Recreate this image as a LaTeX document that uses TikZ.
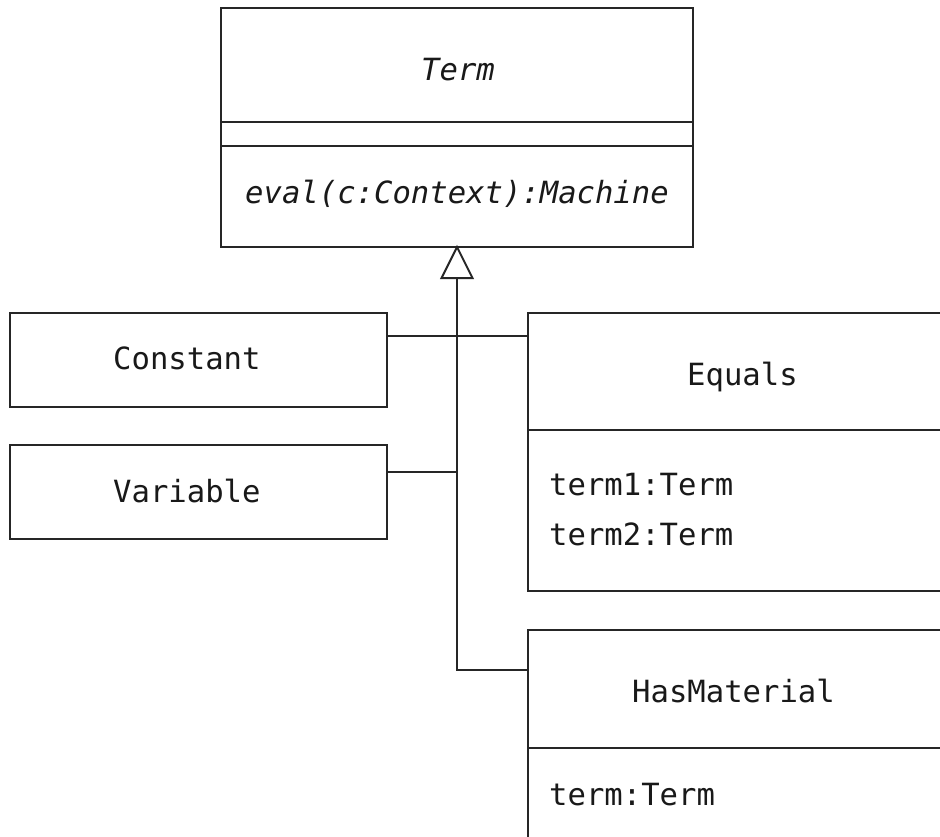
\documentclass[tikz,border=0pt]{standalone}
\usepackage{fontspec}
\setmonofont{DejaVu Sans Mono}
\usetikzlibrary{calc}
\begin{document}
\begin{tikzpicture}[x=1bp,y=-1bp,
  box/.style={draw=black!85, line width=2bp, rectangle, anchor=north west, inner sep=0pt, outer sep=0pt},
  lbl/.style={font=\ttfamily\fontsize{30.7}{36}\selectfont, inner sep=0pt, text=black!90},
  conn/.style={draw=black!85, line width=2bp}]
\useasboundingbox (0,0) rectangle (940,837);
\clip (0,0) rectangle (940,837);
\fill[white] (0,0) rectangle (940,837);
% Term class
\node[box, minimum width=472bp, minimum height=239bp] (term) at (221,8) {};
\draw[conn] (term.west |- 0,122) -- (term.east |- 0,122);
\draw[conn] (term.west |- 0,146) -- (term.east |- 0,146);
\node[lbl, anchor=base] (termname) at (458,80) {\itshape Term};
\node[lbl, anchor=base] (termop) at (457,203) {\itshape eval(c:Context):Machine};
% Constant, Variable
\node[box, minimum width=377bp, minimum height=94bp] (const) at (10,313) {};
\node[lbl, anchor=base west] (constname) at (113,369) {Constant};
\node[box, minimum width=377bp, minimum height=94bp] (var) at (10,445) {};
\node[lbl, anchor=base west] (varname) at (113,502) {Variable};
% Equals
\node[box, minimum width=440bp, minimum height=278bp] (eq) at (528,313) {};
\draw[conn] (eq.west |- 0,430) -- (eq.east |- 0,430);
\node[lbl, anchor=base west] (eqname) at (687,385) {Equals};
\node[lbl, anchor=base west] (eqa1) at (549,495) {term1:Term};
\node[lbl, anchor=base west] (eqa2) at (549,545) {term2:Term};
% HasMaterial
\node[box, minimum width=440bp, minimum height=260bp] (hm) at (528,630) {};
\draw[conn] (hm.west |- 0,748) -- (hm.east |- 0,748);
\node[lbl, anchor=base west] (hmname) at (632,702) {HasMaterial};
\node[lbl, anchor=base west] (hma1) at (549,805) {term:Term};
% connectors
\coordinate (j1) at (term.south |- 0,336);
\coordinate (j2) at (term.south |- 0,472);
\coordinate (j3) at (term.south |- 0,670);
\coordinate (tribase) at ($(term.south)+(0,31)$);
\draw[conn] (hm.west |- j3) -- (j3) -- (tribase);
\draw[conn, line join=miter, fill=white] (term.south) -- ($(tribase)+(-15.5,0)$) -- ($(tribase)+(15.5,0)$) -- cycle;
\draw[conn] (const.east |- j1) -- (eq.west |- j1);
\draw[conn] (var.east |- j2) -- (j2);
\end{tikzpicture}
\end{document}
